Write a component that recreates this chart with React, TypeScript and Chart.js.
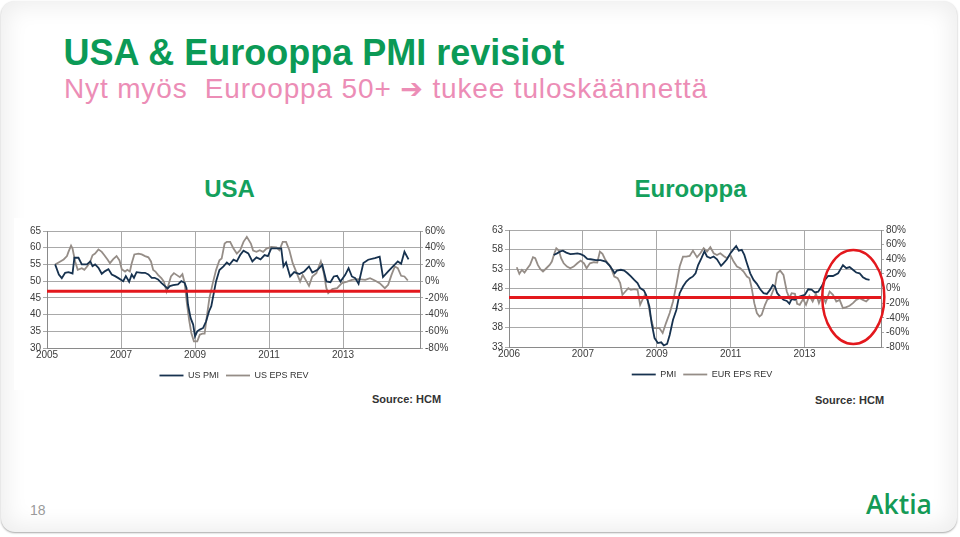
import React, { useEffect, useRef } from "react";
import { Chart, registerables } from "chart.js";
Chart.register(...registerables);

// ---------- DATA ----------
const usPmiYears = [2005.22,2005.32,2005.40,2005.49,2005.58,2005.69,2005.74,2005.85,2005.94,2006.08,2006.17,2006.23,2006.30,2006.39,2006.48,2006.57,2006.66,2006.75,2006.84,2006.93,2007.06,2007.13,2007.22,2007.29,2007.35,2007.42,2007.56,2007.65,2007.74,2007.83,2007.91,2008.00,2008.09,2008.18,2008.26,2008.32,2008.41,2008.54,2008.63,2008.72,2008.77,2008.81,2008.88,2008.95,2009.00,2009.06,2009.13,2009.22,2009.30,2009.38,2009.44,2009.50,2009.57,2009.66,2009.77,2009.86,2009.93,2010.04,2010.13,2010.22,2010.31,2010.44,2010.55,2010.66,2010.77,2010.88,2010.97,2011.06,2011.20,2011.33,2011.39,2011.46,2011.57,2011.68,2011.82,2011.95,2012.08,2012.17,2012.31,2012.44,2012.55,2012.66,2012.75,2012.84,2012.93,2013.06,2013.15,2013.24,2013.33,2013.42,2013.55,2013.68,2013.86,2013.99,2014.08,2014.22,2014.35,2014.48,2014.57,2014.66,2014.77];
const usPmiValues = [55,52.0,50.9,52.5,52.7,52.3,57,57,55,55,55.9,54.5,55,54,52.2,53,53.6,52,51.5,50.9,50,51.5,49.8,52,51,52.7,52.5,52.5,52,51,51,50.5,49.5,48.6,47.8,48.5,48.8,49,50,49.5,48,43,39,37,33.5,35,35.5,36,38,41,42.5,46,50,53.3,54.4,55.6,54.9,56.4,55.9,57.8,59.1,58.3,55.9,57.1,56.5,57.8,57.5,59.8,59.8,59.8,54.4,55.6,51.4,52.7,52.1,52.9,54.4,52.6,53.4,54.9,49.9,49.7,51.4,51.6,49.9,51.9,53.9,51.4,50.9,49.2,55.4,56.4,56.9,57.3,51.2,52.9,54.4,55.9,55.2,58.8,56.5];

const usEpsYears = [2005.22,2005.36,2005.45,2005.54,2005.58,2005.65,2005.69,2005.76,2005.83,2005.94,2006.01,2006.10,2006.17,2006.23,2006.30,2006.39,2006.48,2006.55,2006.64,2006.70,2006.79,2006.88,2006.96,2007.02,2007.11,2007.17,2007.24,2007.29,2007.36,2007.47,2007.56,2007.65,2007.74,2007.81,2007.87,2007.93,2008.00,2008.09,2008.16,2008.23,2008.27,2008.35,2008.43,2008.50,2008.59,2008.66,2008.72,2008.78,2008.84,2008.90,2008.97,2009.06,2009.13,2009.20,2009.26,2009.32,2009.39,2009.48,2009.57,2009.66,2009.72,2009.80,2009.86,2009.95,2010.04,2010.13,2010.22,2010.31,2010.40,2010.51,2010.57,2010.66,2010.75,2010.84,2010.93,2011.06,2011.20,2011.28,2011.37,2011.46,2011.55,2011.64,2011.75,2011.84,2011.91,2011.99,2012.08,2012.17,2012.28,2012.40,2012.48,2012.55,2012.60,2012.71,2012.84,2012.97,2013.11,2013.24,2013.42,2013.60,2013.73,2013.86,2013.99,2014.13,2014.22,2014.31,2014.40,2014.48,2014.57,2014.66,2014.75];
const usEpsValues = [20,23.6,26,30,35,42.5,39,23.6,13.5,15.5,13.5,18.3,23.6,31,33,38,35,31,25.5,21.5,26.4,30,24.8,14.4,11.5,13.5,11.5,21.5,32,33,32,30,28.5,23.6,13.5,11.5,7.5,3.5,-0.5,-12.4,-6.4,5.6,9.6,7.5,4.8,8.3,-2.4,-26.3,-46.2,-62,-72,-72,-64,-62.8,-62.8,-42,-20,-2.4,13.5,25,27,45,47,47,39,33,37,47,53,45,36.5,35,37,35,39,41,40.5,37,47,47,37,21.5,9.6,-0.5,7.5,1.5,-5.6,5.6,9.6,23.6,9.6,-8.4,-14.4,-9.6,-8.4,-2.4,-0.5,1.5,2.4,1.5,3.5,0.8,-2.4,-8.4,-4.4,7.5,17.5,15.5,6.4,5.6,0.8];

const euPmiYears = [2006.21,2006.30,2006.39,2006.46,2006.55,2006.66,2006.75,2006.85,2006.94,2007.03,2007.12,2007.21,2007.35,2007.48,2007.62,2007.71,2007.80,2007.86,2007.92,2008.03,2008.12,2008.21,2008.30,2008.39,2008.48,2008.55,2008.65,2008.71,2008.80,2008.86,2008.94,2009.03,2009.12,2009.19,2009.28,2009.35,2009.44,2009.53,2009.62,2009.71,2009.80,2009.89,2009.98,2010.05,2010.12,2010.21,2010.29,2010.36,2010.45,2010.54,2010.63,2010.74,2010.81,2010.90,2010.99,2011.08,2011.15,2011.22,2011.30,2011.37,2011.44,2011.53,2011.62,2011.71,2011.80,2011.89,2011.98,2012.07,2012.14,2012.20,2012.26,2012.34,2012.43,2012.52,2012.59,2012.65,2012.74,2012.83,2012.92,2013.01,2013.10,2013.19,2013.28,2013.37,2013.46,2013.55,2013.64,2013.77,2013.91,2014.04,2014.13,2014.22,2014.31,2014.40,2014.49,2014.58,2014.67,2014.76];
const euPmiValues = [56.6,57.0,57.5,57.7,57.2,56.8,56.9,57.0,56.8,56.4,55.6,55.5,55.3,55.3,54.9,54.0,52.8,51.9,52.6,52.8,52.6,51.9,51.1,50.2,49.4,48.1,47.5,46.4,43.4,39.1,35.3,34.0,34.2,33.4,33.8,36.1,40.0,42.5,46.8,48.5,49.8,50.6,51.1,51.9,54.0,55.8,57.5,56.2,55.8,56.2,55.5,53.8,54.5,55.5,57.0,58.1,58.9,57.7,57.9,56.6,54.5,51.9,50.2,49.2,47.8,46.8,46.6,47.7,48.9,48.5,46.8,45.9,45.1,44.8,44.1,45.3,45.1,45.8,46.1,46.4,47.8,47.7,47.0,47.2,48.5,50.2,51.2,51.2,51.9,54.0,53.2,53.5,52.8,52.1,51.9,50.9,50.4,50.2];

const euEpsYears = [2005.21,2005.28,2005.35,2005.42,2005.50,2005.57,2005.65,2005.71,2005.78,2005.85,2005.92,2006.01,2006.10,2006.16,2006.23,2006.28,2006.35,2006.41,2006.48,2006.57,2006.66,2006.75,2006.85,2006.94,2007.03,2007.10,2007.19,2007.30,2007.39,2007.46,2007.53,2007.60,2007.66,2007.75,2007.85,2007.94,2008.01,2008.07,2008.15,2008.23,2008.30,2008.39,2008.48,2008.55,2008.62,2008.68,2008.75,2008.83,2008.91,2008.98,2009.07,2009.16,2009.25,2009.35,2009.44,2009.53,2009.62,2009.71,2009.80,2009.89,2009.98,2010.05,2010.09,2010.18,2010.27,2010.36,2010.45,2010.54,2010.63,2010.72,2010.81,2010.90,2010.99,2011.08,2011.17,2011.26,2011.35,2011.44,2011.51,2011.57,2011.64,2011.71,2011.78,2011.84,2011.93,2011.99,2012.07,2012.14,2012.20,2012.26,2012.34,2012.43,2012.52,2012.59,2012.65,2012.74,2012.80,2012.87,2012.96,2013.04,2013.13,2013.22,2013.31,2013.39,2013.48,2013.57,2013.68,2013.77,2013.86,2013.95,2014.04,2014.13,2014.22,2014.31,2014.40,2014.49,2014.58,2014.67,2014.76];
const euEpsValues = [29,20,25.5,21.8,27.7,32.3,42.7,41.4,32.3,26.4,23.2,27.7,32.3,36.8,48.2,55,51.8,41.4,34.5,30,27.7,30,34.5,38.2,34.5,27.7,34.5,35.9,35.5,50.5,47.3,40,35.5,30,16.4,14.1,7.3,-8.6,-4.1,0.5,-1.8,-0.9,-1.8,-22.3,-14.5,-8.6,-15.5,-38.2,-54.1,-54.1,-54.1,-60.9,-47.3,-33.6,-17.7,5,30,43.6,43.6,44.5,51.8,46,42.7,48.2,55,50.5,56.4,48.2,45.9,48.2,44.5,41.4,45.9,36.8,30,27.7,23.2,16.4,14.1,0.5,-20,-33.6,-38.2,-35.9,-22.3,-15.5,-13.2,-4.1,2.7,20.9,24.5,18.6,-4.1,-13.2,-6.4,-7.3,-20.9,-22.3,-14.5,-22.3,-10,-17.7,-7.3,-20,-8.6,-19.1,-4.1,-8.6,-17.7,-15.5,-26.8,-25.5,-23.6,-20,-15.5,-13.2,-15.5,-17.7,-13.2];

const xTickYears = [2005, 2007, 2009, 2011, 2013];
const usXTickLabels = ["2005", "2007", "2009", "2011", "2013"];
const euXTickLabels = ["2006", "2007", "2009", "2011", "2013"];
const usLeftTicks = [30, 35, 40, 45, 50, 55, 60, 65];
const usRightTicks = [-80, -60, -40, -20, 0, 20, 40, 60];
const euLeftTicks = [33, 38, 43, 48, 53, 58, 63];
const euRightTicks = [-80, -60, -40, -20, 0, 20, 40, 60, 80];
const usThresholdPmi = 47;
const euThresholdPmi = 45.7;
const usAxisYears = [2005, 2015.08];
const euAxisYears = [2005, 2015.07];
const usLegend = ["US PMI", "US EPS REV"];
const euLegend = ["PMI", "EUR EPS REV"];
// highlighted region on the Europe chart (centre year, centre PMI, half-width in years, half-height in PMI)
const euHighlight = [2014.32, 45.8, 0.84, 12.05];

// ---------- STYLE ----------
const NAVY = "#17324f";
const GRAY = "#958d87";
const RED = "#e3181d";
const GRID = "#a9a9a9";
const TICK = "#3c3c3c";
const FONT = "'Liberation Sans', Arial, sans-serif";

type Cfg = {
  pmiYears: number[]; pmiValues: number[]; epsYears: number[]; epsValues: number[];
  xLabels: string[]; leftTicks: number[]; rightTicks: number[];
  threshold: number; axisYears: number[]; legend: string[];
  yWidth: number; y1Width: number; padTop: number; highlight?: number[];
};

const pair = (xs: number[], ys: number[]) => xs.map((x, i) => ({ x, y: ys[i] }));

function buildChart(canvas: HTMLCanvasElement, c: Cfg) {
  const leftMin = c.leftTicks[0];
  const leftMax = c.leftTicks[c.leftTicks.length - 1];
  const rightMin = c.rightTicks[0];
  const rightMax = c.rightTicks[c.rightTicks.length - 1];
  const highlightPlugin = {
    id: "highlight",
    afterDatasetsDraw(chart: any) {
      if (!c.highlight) return;
      const { x, y } = chart.scales;
      const [hx, hy, hw, hh] = c.highlight;
      const cx = x.getPixelForValue(hx);
      const cy = y.getPixelForValue(hy);
      const rx = Math.abs(x.getPixelForValue(hx + hw) - cx);
      const ry = Math.abs(y.getPixelForValue(hy + hh) - cy);
      const ctx = chart.ctx;
      ctx.save();
      ctx.beginPath();
      ctx.ellipse(cx, cy, rx, ry, 0, 0, Math.PI * 2);
      ctx.strokeStyle = RED;
      ctx.lineWidth = 2.5;
      ctx.stroke();
      ctx.restore();
    },
  };
  return new Chart(canvas, {
    type: "line",
    data: {
      datasets: [
        {
          label: "threshold",
          data: [{ x: c.axisYears[0], y: c.threshold }, { x: c.axisYears[1], y: c.threshold }],
          borderColor: RED, backgroundColor: RED, borderWidth: 3, pointRadius: 0, yAxisID: "y", order: 0,
        },
        {
          label: c.legend[0], data: pair(c.pmiYears, c.pmiValues), borderColor: NAVY, backgroundColor: NAVY,
          borderWidth: 1.8, pointRadius: 0, yAxisID: "y", order: 1,
        },
        {
          label: c.legend[1], data: pair(c.epsYears, c.epsValues), borderColor: GRAY, backgroundColor: GRAY,
          borderWidth: 1.8, pointRadius: 0, yAxisID: "y1", order: 2,
        },
      ],
    },
    options: {
      responsive: false,
      animation: false,
      devicePixelRatio: 1,
      layout: { padding: { top: c.padTop, left: 0, right: 0, bottom: 0 } },
      plugins: {
        tooltip: { enabled: false },
        legend: {
          position: "bottom",
          labels: {
            filter: (item: any) => item.text !== "threshold",
            usePointStyle: true,
            pointStyle: "line",
            pointStyleWidth: 24,
            boxHeight: 9,
            font: { family: FONT, size: 9 },
            color: "#333",
            padding: 7,
          },
        },
      },
      scales: {
        x: {
          type: "linear",
          min: c.axisYears[0],
          max: c.axisYears[1],
          afterBuildTicks: (s: any) => { s.ticks = xTickYears.map((v) => ({ value: v })); },
          afterFit: (s: any) => { s.height = 16; },
          ticks: {
            callback: (_v: any, i: number) => c.xLabels[i],
            font: { family: FONT, size: 10 }, color: TICK, padding: 1, maxRotation: 0, autoSkip: false,
          },
          grid: { color: GRID, lineWidth: 1, tickLength: 0 },
          border: { color: "#8a8a8a" },
        },
        y: {
          position: "left",
          min: leftMin, max: leftMax,
          afterBuildTicks: (s: any) => { s.ticks = c.leftTicks.map((v) => ({ value: v })); },
          afterFit: (s: any) => { s.width = c.yWidth; },
          ticks: { font: { family: FONT, size: 10 }, color: TICK, padding: 2, autoSkip: false },
          grid: { color: GRID, lineWidth: 1, tickLength: 4 },
          border: { color: "#8a8a8a" },
        },
        y1: {
          position: "right",
          min: rightMin, max: rightMax,
          afterBuildTicks: (s: any) => { s.ticks = c.rightTicks.map((v) => ({ value: v })); },
          afterFit: (s: any) => { s.width = c.y1Width; },
          ticks: { font: { family: FONT, size: 10 }, color: TICK, padding: 2, autoSkip: false, callback: (v: any) => v + "%" },
          grid: { drawOnChartArea: false, color: GRID, tickLength: 3 },
          border: { color: "#8a8a8a" },
        },
      },
    },
    plugins: [highlightPlugin],
  } as any);
}

function ChartBox(props: { cfg: Cfg; left: number; top: number; width: number; height: number }) {
  const ref = useRef<HTMLCanvasElement>(null);
  useEffect(() => {
    const ch = buildChart(ref.current!, props.cfg);
    return () => ch.destroy();
  }, []);
  return (
    <div style={{ position: "absolute", left: props.left, top: props.top, width: props.width, height: props.height, background: "#fff" }}>
      <canvas ref={ref} width={props.width} height={props.height} style={{ display: "block" }} />
    </div>
  );
}

const usCfg: Cfg = {
  pmiYears: usPmiYears, pmiValues: usPmiValues, epsYears: usEpsYears, epsValues: usEpsValues,
  xLabels: usXTickLabels, leftTicks: usLeftTicks, rightTicks: usRightTicks, threshold: usThresholdPmi,
  axisYears: usAxisYears, legend: usLegend, yWidth: 33, y1Width: 34, padTop: 13,
};
const euCfg: Cfg = {
  pmiYears: euPmiYears, pmiValues: euPmiValues, epsYears: euEpsYears, epsValues: euEpsValues,
  xLabels: euXTickLabels, leftTicks: euLeftTicks, rightTicks: euRightTicks, threshold: euThresholdPmi,
  axisYears: euAxisYears, legend: euLegend, yWidth: 27, y1Width: 41, padTop: 14, highlight: euHighlight,
};

const txt = (extra: React.CSSProperties): React.CSSProperties => ({
  position: "absolute", margin: 0, lineHeight: 1, whiteSpace: "nowrap", fontFamily: FONT, ...extra,
});

export default function App() {
  return (
    <div style={{ position: "absolute", left: 0, top: 0, width: 960, height: 537, background: "#fff", overflow: "hidden" }}>
      <div style={{
        position: "absolute", left: 1, top: 1, width: 956, height: 531, borderRadius: 14, background: "#fff",
        boxShadow: "inset 0 0 22px 6px rgba(0,0,0,0.07), 0 1px 2px rgba(0,0,0,0.35)",
      }} />
      <div style={txt({ left: 63.5, top: 34.5, fontSize: 36, fontWeight: 700, color: "#0b9a56" })}>USA &amp; Eurooppa PMI revisiot</div>
      <div style={txt({ left: 64, top: 74.5, fontSize: 28, color: "#ec8db6", letterSpacing: 0.85 })}>Nyt myös&nbsp; Eurooppa 50+ <span style={{ fontFamily: "'DejaVu Sans', sans-serif", fontSize: 27, fontWeight: 700 }}>➔</span> tukee tuloskäännettä</div>
      <div style={txt({ left: 229.5, top: 176.7, fontSize: 24, fontWeight: 700, color: "#14a05c", transform: "translateX(-50%)" })}>USA</div>
      <div style={txt({ left: 690.5, top: 176.7, fontSize: 24, fontWeight: 700, color: "#14a05c", transform: "translateX(-50%)" })}>Eurooppa</div>
      <ChartBox cfg={usCfg} left={14} top={218} width={440} height={172} />
      <ChartBox cfg={euCfg} left={482} top={216} width={440} height={173} />
      <div style={txt({ left: 372, top: 393.7, fontSize: 11, fontWeight: 700, color: "#333" })}>Source: HCM</div>
      <div style={txt({ left: 815, top: 394.7, fontSize: 11, fontWeight: 700, color: "#333" })}>Source: HCM</div>
      <div style={txt({ left: 30, top: 503, fontSize: 14, color: "#9a9a9a" })}>18</div>
      <div style={txt({ left: 866, top: 491, fontSize: 26.5, fontWeight: 600, color: "#149a56", fontFamily: "'Open Sans', sans-serif" })}>Aktia</div>
    </div>
  );
}
